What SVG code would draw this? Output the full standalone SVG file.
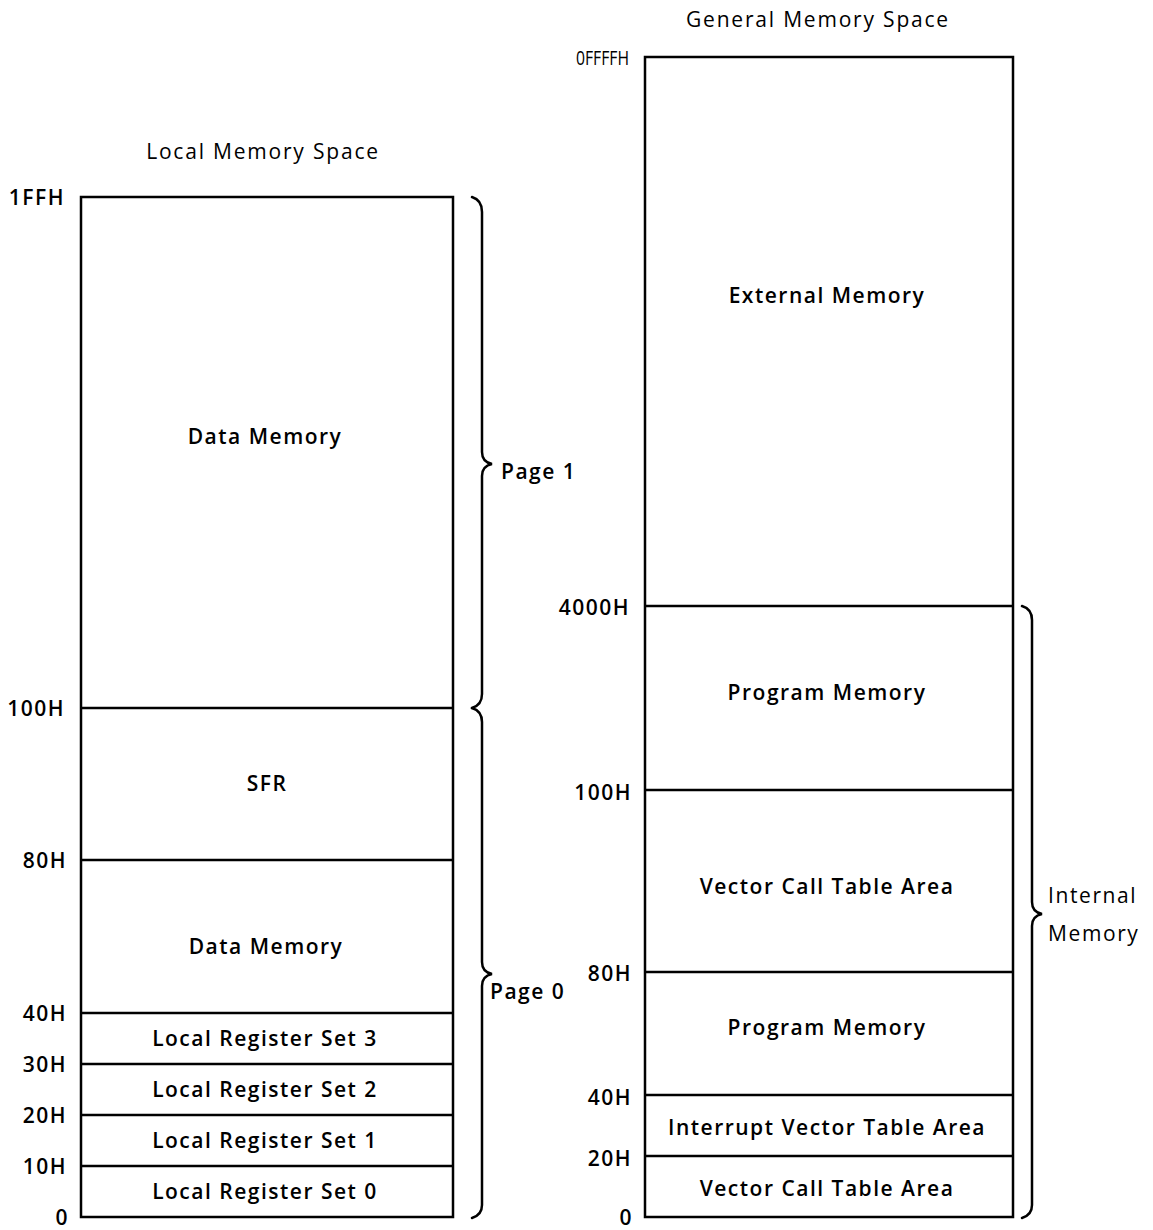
<svg xmlns="http://www.w3.org/2000/svg" width="1153" height="1230" viewBox="0 0 1153 1230">
<style>
.box{fill:none;stroke:#000;stroke-width:2.5}
.div{stroke:#000;stroke-width:2.5}
.br{fill:none;stroke:#000;stroke-width:2.5;stroke-linecap:round}
text{font-family:"Open Sans","Liberation Sans",Arial,sans-serif;fill:#000}
.lbl{font-size:21px;font-weight:600;text-anchor:middle;letter-spacing:1.5px}
.addr{font-size:21px;font-weight:600;text-anchor:end;letter-spacing:1.5px}
.ttl{font-size:21px;text-anchor:middle;letter-spacing:1.8px}
.side{font-size:21px;font-weight:600;letter-spacing:1.5px}
.side2{font-size:21px;letter-spacing:1.6px}
</style>
<rect width="1153" height="1230" fill="#fff"/>
<g id="local">
<text class="ttl" x="263" y="159">Local Memory Space</text>
<rect class="box" x="81" y="197" width="372" height="1020"/>
<line class="div" x1="81" y1="708" x2="453" y2="708"/>
<line class="div" x1="81" y1="860" x2="453" y2="860"/>
<line class="div" x1="81" y1="1013" x2="453" y2="1013"/>
<line class="div" x1="81" y1="1064" x2="453" y2="1064"/>
<line class="div" x1="81" y1="1115" x2="453" y2="1115"/>
<line class="div" x1="81" y1="1166" x2="453" y2="1166"/>
<text class="addr" x="65" y="205">1FFH</text>
<text class="addr" x="65" y="716">100H</text>
<text class="addr" x="67" y="868">80H</text>
<text class="addr" x="67" y="1021">40H</text>
<text class="addr" x="67" y="1072">30H</text>
<text class="addr" x="67" y="1123">20H</text>
<text class="addr" x="67" y="1174">10H</text>
<text class="addr" x="69" y="1225">0</text>
<text class="lbl" x="265" y="444">Data Memory</text>
<text class="lbl" x="267" y="791">SFR</text>
<text class="lbl" x="266" y="954">Data Memory</text>
<text class="lbl" x="265" y="1046">Local Register Set 3</text>
<text class="lbl" x="265" y="1097">Local Register Set 2</text>
<text class="lbl" x="265" y="1148">Local Register Set 1</text>
<text class="lbl" x="265" y="1199">Local Register Set 0</text>
</g>
<g id="general">
<text class="ttl" x="818" y="27">General Memory Space</text>
<rect class="box" x="645" y="57" width="368" height="1160"/>
<line class="div" x1="645" y1="606" x2="1013" y2="606"/>
<line class="div" x1="645" y1="790" x2="1013" y2="790"/>
<line class="div" x1="645" y1="972" x2="1013" y2="972"/>
<line class="div" x1="645" y1="1095" x2="1013" y2="1095"/>
<line class="div" x1="645" y1="1156" x2="1013" y2="1156"/>
<text x="576" y="65" textLength="53" lengthAdjust="spacingAndGlyphs" style="font-size:20px">0FFFFH</text>
<text class="addr" x="630" y="615">4000H</text>
<text class="addr" x="632" y="800">100H</text>
<text class="addr" x="632" y="981">80H</text>
<text class="addr" x="632" y="1105">40H</text>
<text class="addr" x="632" y="1166">20H</text>
<text class="addr" x="633" y="1225">0</text>
<text class="lbl" x="827" y="303">External Memory</text>
<text class="lbl" x="827" y="700">Program Memory</text>
<text class="lbl" x="827" y="894">Vector Call Table Area</text>
<text class="lbl" x="827" y="1035">Program Memory</text>
<text class="lbl" x="827" y="1135">Interrupt Vector Table Area</text>
<text class="lbl" x="827" y="1196">Vector Call Table Area</text>
</g>
<g id="connectors">
<path class="br" d="M472,197 Q482,200 482,212 L482,452 Q482,462 492,464 Q482,466 482,476 L482,694 Q482,705 472,708"/>
<path class="br" d="M472,708 Q482,711 482,722 L482,962 Q482,972 492,974 Q482,976 482,986 L482,1205 Q482,1215 472,1218"/>
<path class="br" d="M1022,606 Q1032,609 1032,620 L1032,902 Q1032,912 1042,914 Q1032,916 1032,926 L1032,1205 Q1032,1215 1022,1218"/>
</g>
<g id="brace-labels">
<text class="side" x="501" y="479">Page 1</text>
<text class="side" x="490" y="999">Page 0</text>
<text class="side2" x="1048" y="903">Internal</text>
<text class="side2" x="1048" y="941">Memory</text>
</g>
</svg>
